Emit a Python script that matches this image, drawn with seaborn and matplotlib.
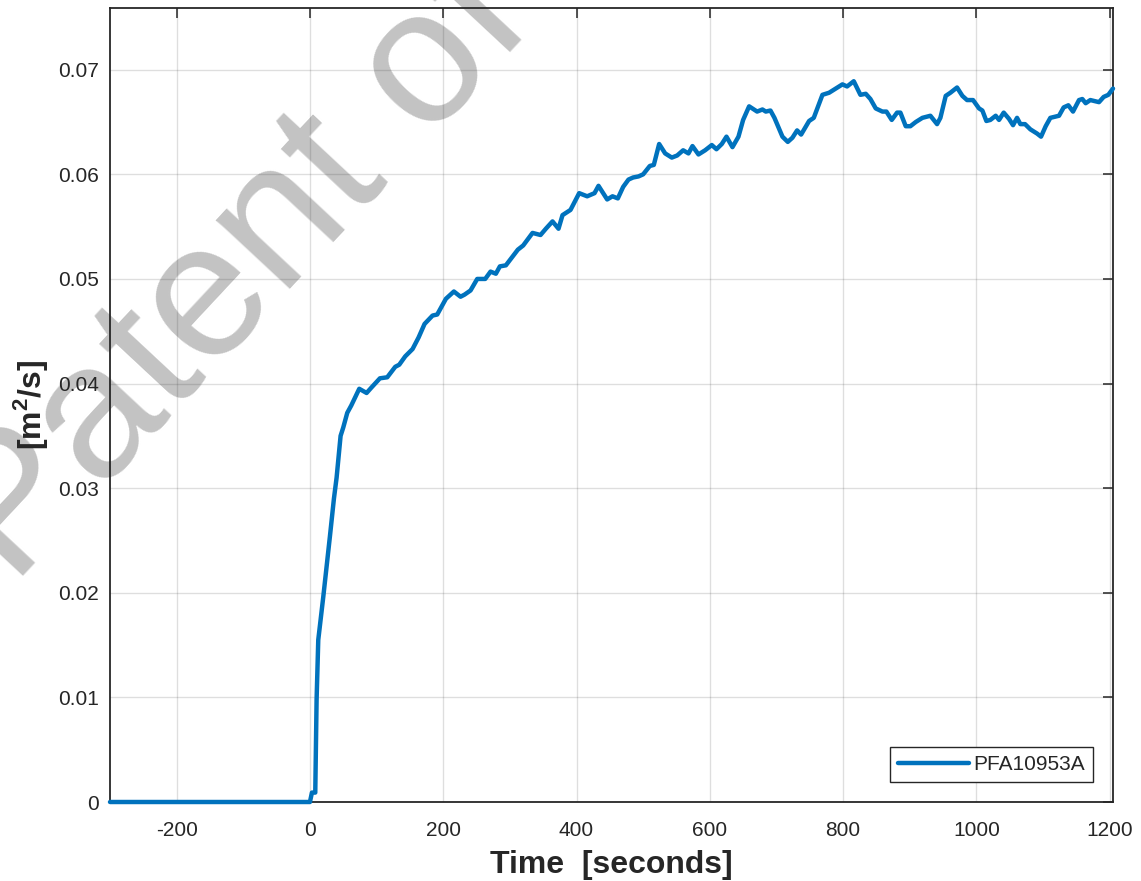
import numpy as np
import pandas as pd
import matplotlib
matplotlib.use("Agg")
import matplotlib.pyplot as plt
import seaborn as sns

time_s = [-300, 0, 3, 8, 10, 12.5, 20, 30, 36, 40, 46, 50, 56, 62, 74, 85, 92,
          105, 116, 128, 134, 143, 154, 163, 172, 184, 191, 204, 216, 226, 232,
          241, 251, 263, 271, 279, 285, 294, 312, 320, 334, 346, 354, 364, 373,
          379, 391, 404, 416, 427, 433, 446, 454, 462, 470, 478, 485, 493, 500,
          510, 516, 524, 533, 543, 551, 560, 568, 574, 583, 593, 603, 610, 618,
          625, 634, 643, 650, 659, 671, 679, 684, 691, 697, 709, 717, 724, 731,
          737, 749, 756, 769, 779, 789, 799, 806, 816, 826, 834, 841, 849, 859,
          865, 873, 881, 886, 894, 901, 909, 919, 931, 941, 946, 954, 961, 971,
          979, 986, 995, 1004, 1009, 1015, 1021, 1029, 1034, 1041, 1049, 1055,
          1061, 1066, 1073, 1081, 1091, 1097, 1104, 1111, 1124, 1131, 1138, 1145,
          1154, 1159, 1164, 1171, 1184, 1191, 1198, 1205]
flow = [0, 0, 0.0009, 0.0009, 0.0098, 0.0155, 0.0196, 0.0254, 0.0290, 0.0310,
        0.0350, 0.0358, 0.0372, 0.0379, 0.0395, 0.0391, 0.0396,
        0.0405, 0.0406, 0.0416, 0.0418, 0.0426, 0.0433, 0.0444, 0.0457, 0.0465,
        0.0466, 0.0481, 0.0488, 0.0483, 0.0485,
        0.0489, 0.0500, 0.0500, 0.0507, 0.0505, 0.0512, 0.0513, 0.0528, 0.0532,
        0.0544, 0.0542, 0.0548, 0.0555, 0.0548,
        0.0561, 0.0566, 0.0582, 0.0579, 0.0582, 0.0589, 0.0576, 0.0579, 0.0577,
        0.0588, 0.0595, 0.0597, 0.0598, 0.0600,
        0.0608, 0.0609, 0.0629, 0.0620, 0.0616, 0.0618, 0.0623, 0.0620, 0.0627,
        0.0619, 0.0623, 0.0628, 0.0624, 0.0629,
        0.0636, 0.0626, 0.0636, 0.0652, 0.0665, 0.0660, 0.0662, 0.0660, 0.0661,
        0.0654, 0.0636, 0.0631, 0.0635, 0.0642,
        0.0638, 0.0651, 0.0654, 0.0676, 0.0678, 0.0682, 0.0686, 0.0684, 0.0689,
        0.0676, 0.0677, 0.0672, 0.0663, 0.0660,
        0.0660, 0.0652, 0.0659, 0.0659, 0.0646, 0.0646, 0.0650, 0.0654, 0.0656,
        0.0648, 0.0654, 0.0675, 0.0678, 0.0683,
        0.0675, 0.0671, 0.0671, 0.0663, 0.0661, 0.0651, 0.0652, 0.0656, 0.0652,
        0.0659, 0.0653, 0.0647,
        0.0654, 0.0648, 0.0648, 0.0643, 0.0639, 0.0636, 0.0646, 0.0654, 0.0656,
        0.0664, 0.0666, 0.0660,
        0.0671, 0.0672, 0.0668, 0.0671, 0.0669, 0.0674, 0.0676, 0.0682]

x_ticks = [-200, 0, 200, 400, 600, 800, 1000, 1200]
x_labels = ["-200", "0", "200", "400", "600", "800", "1000", "1200"]
y_ticks = [0, 0.01, 0.02, 0.03, 0.04, 0.05, 0.06, 0.07]
y_labels = ["0", "0.01", "0.02", "0.03", "0.04", "0.05", "0.06", "0.07"]
series_name = "PFA10953A"

df = pd.DataFrame({"t": time_s, "q": flow})

sns.set_style("white")
plt.rcParams["font.family"] = ["Liberation Sans", "DejaVu Sans"]
plt.rcParams["axes.unicode_minus"] = False
plt.rcParams["mathtext.fontset"] = "custom"
plt.rcParams["mathtext.rm"] = "Liberation Sans"
plt.rcParams["mathtext.bf"] = "Liberation Sans:bold"

dark = "#262626"
fig = plt.figure(figsize=(11.41, 8.81), dpi=100)
fig.patch.set_facecolor("white")
ax = fig.add_axes([110 / 1141, 1 - 802 / 881, 1003 / 1141, 794 / 881])
ax.patch.set_alpha(0)

# watermark behind the axes
fig.text(238 / 1141, 1 - 272 / 881, "Patent of", rotation=47, fontsize=138,
         color="#c3c3c3", ha="center", va="center", zorder=-1,
         rotation_mode="anchor")

sns.lineplot(data=df, x="t", y="q", ax=ax, color="#0072BD", linewidth=3.2,
             label=series_name, zorder=3, clip_on=False)

ax.set_xlim(-300, 1205)
ax.set_ylim(0, 0.0759)
ax.set_xticks(x_ticks)
ax.set_xticklabels(x_labels)
ax.set_yticks(y_ticks)
ax.set_yticklabels(y_labels)

ax.grid(True, color=dark, alpha=0.15, linewidth=1.0)
for s in ax.spines.values():
    s.set_visible(True)
    s.set_color(dark)
    s.set_linewidth(1.3)
ax.tick_params(direction="in", length=7.5, width=1.1, colors=dark,
               labelsize=15, top=True, right=True)
ax.tick_params(axis="x", pad=13.5)
ax.tick_params(axis="y", pad=8)

ax.set_xlabel("Time  [seconds]", fontsize=23, fontweight="bold", color=dark,
              labelpad=7.5)
ax.set_ylabel(r"[m$^\mathbf{2}$/s]", fontsize=23, fontweight="bold",
              color=dark, labelpad=6)

leg = ax.legend(loc="lower right", fontsize=15, frameon=True, fancybox=False,
                framealpha=1, edgecolor=dark, handlelength=3.4,
                handletextpad=0.2, borderpad=0.4, borderaxespad=0.95)
leg.get_frame().set_linewidth(1.0)
for txt in leg.get_texts():
    txt.set_color(dark)

fig.savefig("out.png", dpi=100, facecolor="white")
